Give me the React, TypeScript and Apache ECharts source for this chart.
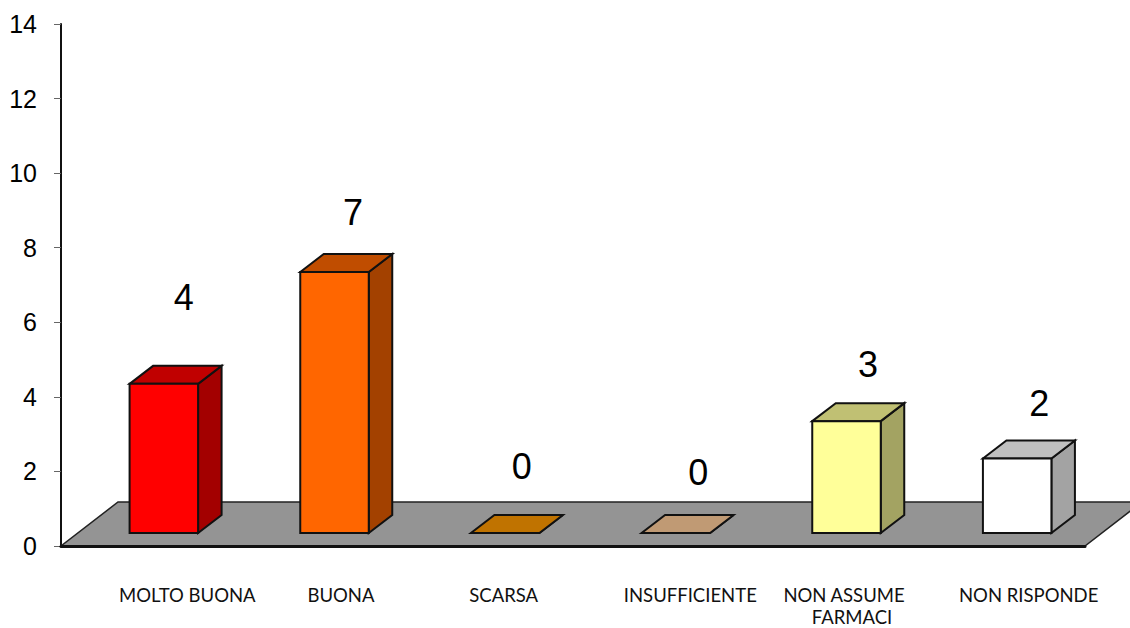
import React, { useEffect, useRef } from "react";
import * as echarts from "echarts";

// Survey answers and how many respondents gave each one.
const categories = ["MOLTO BUONA", "BUONA", "SCARSA", "INSUFFICIENTE", "NON ASSUME FARMACI", "NON RISPONDE"];
const categoryLines = [["MOLTO BUONA"], ["BUONA"], ["SCARSA"], ["INSUFFICIENTE"], ["NON ASSUME", "FARMACI"], ["NON RISPONDE"]];
const counts = [4, 7, 0, 0, 3, 2];
const yTicks = [0, 2, 4, 6, 8, 10, 12, 14];

const frontColors = ["#FF0000", "#FF6600", "#C07300", "#C09A74", "#FFFF99", "#FFFFFF"];
const topColors = ["#C00000", "#C04D00", "#C07300", "#C09A74", "#C0C073", "#C0C0C0"];
const sideColors = ["#A30000", "#A34100", "#A36200", "#A38362", "#A3A362", "#A3A3A3"];

// Placement of the texts relative to each category's band centre (px).
const valueLabelDx = [37.5, 36, 34, 40, 39, 39.5];
const valueLabelY = [297, 212, 466, 472, 364, 403];
const categoryLabelDx = [[41], [24], [16], [32], [15, 23], [29]];
const categoryLabelY = 594.5;
const categoryLineHeight = 22.3;

// Pseudo-3D geometry of the bars and the floor.
const barOffsetX = 17.5;
const barWidth = 68.5;
const floorLift = 13;
const depthX = 23.5;
const depthY = 18;
const floorDepthX = 57;
const floorDepthY = 44;

const FONT_NUM = "'Liberation Sans', Arial, sans-serif";
const FONT_CAT = "Lato, sans-serif";
const EDGE = "#111111";

export default function App() {
  const ref = useRef<HTMLDivElement>(null);

  useEffect(() => {
    document.body.style.margin = "0";
    const chart = echarts.init(ref.current!, undefined, { renderer: "svg" });

    const renderFloor = (_: any, api: any) => {
      const band = api.size([1, 0])[0];
      const [x0, y0] = api.coord([0, 0]);
      const left = x0 - band / 2;
      const right = left + band * categories.length;
      return {
        type: "polygon",
        shape: {
          points: [
            [left, y0],
            [right, y0],
            [right + floorDepthX, y0 - floorDepthY],
            [left + floorDepthX, y0 - floorDepthY],
          ],
        },
        style: { fill: "#949494", stroke: "#222222", lineWidth: 1.5 },
      };
    };

    const renderBar = (_: any, api: any) => {
      const i = api.value(0);
      const v = api.value(1);
      const [cx, y0] = api.coord([i, 0]);
      const yTop = api.coord([i, v])[1] - floorLift;
      const base = y0 - floorLift;
      const l = cx + barOffsetX - barWidth / 2;
      const r = l + barWidth;
      const edge = { stroke: EDGE, lineWidth: 2, lineJoin: "miter" };
      const children: any[] = [
        {
          type: "polygon",
          shape: { points: [[r, yTop], [r + depthX, yTop - depthY], [r + depthX, base - depthY], [r, base]] },
          style: { fill: sideColors[i], ...edge },
        },
        {
          type: "polygon",
          shape: { points: [[l, yTop], [l + depthX, yTop - depthY], [r + depthX, yTop - depthY], [r, yTop]] },
          style: { fill: topColors[i], ...edge },
        },
        {
          type: "rect",
          shape: { x: l, y: yTop, width: barWidth, height: base - yTop },
          style: { fill: frontColors[i], ...edge },
        },
        {
          type: "text",
          style: {
            x: cx + valueLabelDx[i],
            y: valueLabelY[i],
            text: String(counts[i]),
            fill: "#000",
            font: `36px ${FONT_NUM}`,
            align: "center",
            verticalAlign: "middle",
          },
        },
      ];
      categoryLines[i].forEach((line, k) => {
        children.push({
          type: "text",
          style: {
            x: cx + categoryLabelDx[i][k],
            y: categoryLabelY + k * categoryLineHeight,
            text: line,
            fill: "#111",
            font: `18.5px ${FONT_CAT}`,
            align: "center",
            verticalAlign: "middle",
          },
        });
      });
      return { type: "group", children };
    };

    chart.setOption({
      animation: false,
      backgroundColor: "#fff",
      grid: { left: 61, top: 24, width: 1024, height: 522 },
      xAxis: {
        type: "category",
        data: categories,
        axisLine: { show: true, lineStyle: { color: EDGE, width: 3 } },
        axisTick: { show: false },
        axisLabel: { show: false },
        z: 5,
      },
      yAxis: {
        type: "value",
        min: yTicks[0],
        max: yTicks[yTicks.length - 1],
        interval: 2,
        splitLine: { show: false },
        axisLine: { show: true, lineStyle: { color: EDGE, width: 2 } },
        axisTick: { show: true, length: 7, lineStyle: { color: "#666666", width: 1 } },
        axisLabel: { margin: 24, color: "#000", fontSize: 25, fontFamily: FONT_NUM, align: "right" },
      },
      series: [
        { type: "custom", data: [[0, 0]], renderItem: renderFloor, clip: false, z: 1, silent: true },
        {
          type: "custom",
          data: counts.map((c, i) => [i, c]),
          encode: { x: 0, y: 1 },
          renderItem: renderBar,
          clip: false,
          z: 10,
          silent: true,
        },
      ],
    });
    return () => chart.dispose();
  }, []);

  return <div ref={ref} style={{ width: 1130, height: 628 }} />;
}
